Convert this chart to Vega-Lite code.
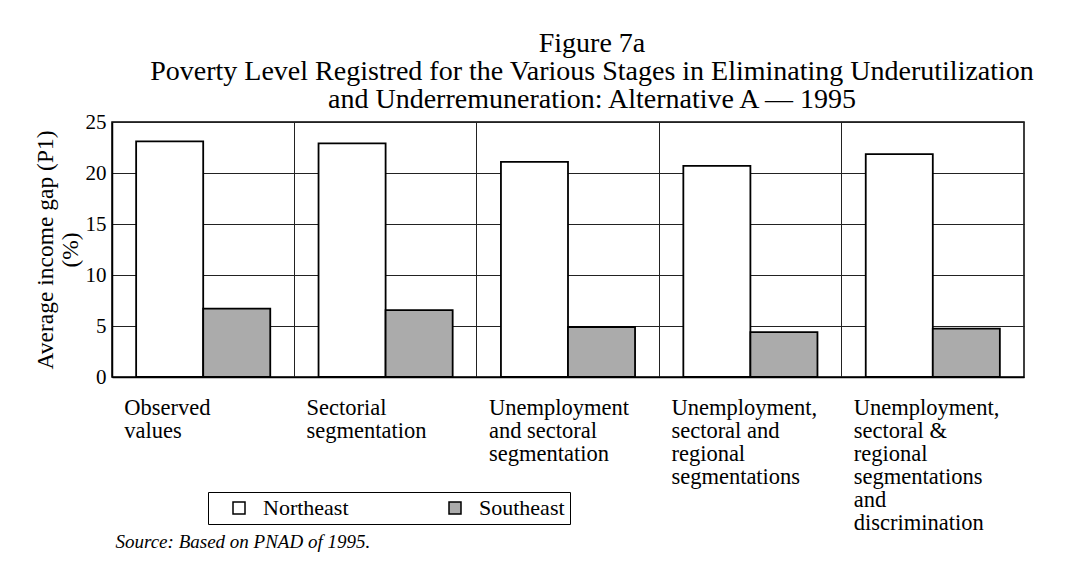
{
  "$schema": "https://vega.github.io/schema/vega-lite/v6.json",
  "width": 912,
  "height": 255,
  "autosize": {"type": "none"},
  "padding": {"left": 112, "top": 122, "right": 43, "bottom": 184},
  "background": "white",
  "title": {
    "text": ["Figure 7a", "Poverty Level Registred for the Various Stages in Eliminating Underutilization", "and Underremuneration: Alternative A — 1995"],
    "font": "Liberation Serif",
    "fontSize": 28,
    "fontWeight": "normal",
    "lineHeight": 28,
    "anchor": "middle",
    "frame": "group",
    "offset": -3,
    "dx": 24,
    "color": "black"
  },
  "data": {
    "values": [
      {"stage": "Observed\nvalues", "region": "Northeast", "value": 23.1},
      {"stage": "Observed\nvalues", "region": "Southeast", "value": 6.7},
      {"stage": "Sectorial\nsegmentation", "region": "Northeast", "value": 22.9},
      {"stage": "Sectorial\nsegmentation", "region": "Southeast", "value": 6.55},
      {"stage": "Unemployment\nand sectoral\nsegmentation", "region": "Northeast", "value": 21.1},
      {"stage": "Unemployment\nand sectoral\nsegmentation", "region": "Southeast", "value": 4.9},
      {"stage": "Unemployment,\nsectoral and\nregional\nsegmentations", "region": "Northeast", "value": 20.7},
      {"stage": "Unemployment,\nsectoral and\nregional\nsegmentations", "region": "Southeast", "value": 4.4},
      {"stage": "Unemployment,\nsectoral &\nregional\nsegmentations\nand\ndiscrimination", "region": "Northeast", "value": 21.85},
      {"stage": "Unemployment,\nsectoral &\nregional\nsegmentations\nand\ndiscrimination", "region": "Southeast", "value": 4.75}
    ]
  },
  "mark": {"type": "bar", "stroke": "black", "strokeWidth": 1.8},
  "encoding": {
    "x": {
      "field": "stage",
      "type": "nominal",
      "sort": null,
      "scale": {"paddingInner": 0, "paddingOuter": 0},
      "axis": {
        "title": "Source: Based on PNAD of 1995.",
        "titleFont": "Liberation Serif",
        "titleFontStyle": "italic",
        "titleFontWeight": "normal",
        "titleFontSize": 19,
        "titleX": 3,
        "titleY": 170,
        "titleAlign": "left",
        "titleAnchor": "start",
        "titleBaseline": "alphabetic",
        "titleColor": "black",
        "bandPosition": 0,
        "ticks": false,
        "domainColor": "black",
        "domainWidth": 1.5,
        "grid": true,
        "gridColor": "#222222",
        "gridWidth": 1,
        "labelAlign": "left",
        "labelBaseline": "top",
        "labelPadding": 19,
        "labelOffset": -79,
        "labelFont": "Liberation Serif",
        "labelFontSize": 22.5,
        "labelLineHeight": 23,
        "labelColor": "black",
        "labelAngle": 0,
        "labelOverlap": false,
        "labelBound": false,
        "labelLimit": 0,
        "labelExpr": "split(datum.label, '\\n')"
      }
    },
    "xOffset": {
      "field": "region",
      "type": "nominal",
      "sort": ["Northeast", "Southeast"],
      "scale": {"paddingOuter": 0.36, "paddingInner": 0}
    },
    "y": {
      "field": "value",
      "type": "quantitative",
      "scale": {"domain": [0, 25], "nice": false},
      "axis": {
        "title": ["Average income gap (P1)", "(%)"],
        "titleFont": "Liberation Serif",
        "titleFontSize": 23.5,
        "titleFontWeight": "normal",
        "titleColor": "black",
        "titleLineHeight": 25,
        "titlePadding": 3,
        "values": [0, 5, 10, 15, 20, 25],
        "ticks": false,
        "labelPadding": 6,
        "labelFont": "Liberation Serif",
        "labelFontSize": 21,
        "labelColor": "black",
        "grid": true,
        "gridColor": "#222222",
        "gridWidth": 1,
        "domainColor": "black",
        "domainWidth": 1.5
      }
    },
    "fill": {
      "field": "region",
      "type": "nominal",
      "scale": {"domain": ["Northeast", "Southeast"], "range": ["white", "#ababab"]},
      "legend": {
        "title": null,
        "orient": "none",
        "legendX": 96,
        "legendY": 370,
        "direction": "horizontal",
        "columns": 2,
        "columnPadding": 80,
        "symbolType": "square",
        "symbolSize": 144,
        "symbolStrokeColor": "black",
        "symbolStrokeWidth": 1.5,
        "symbolOffset": 15,
        "labelFont": "Liberation Serif",
        "labelFontSize": 22,
        "labelOffset": 13,
        "labelColor": "black",
        "strokeColor": "black",
        "padding": 5
      }
    }
  },
  "config": {
    "view": {"stroke": "black", "strokeWidth": 1.5},
    "font": "Liberation Serif"
  }
}
